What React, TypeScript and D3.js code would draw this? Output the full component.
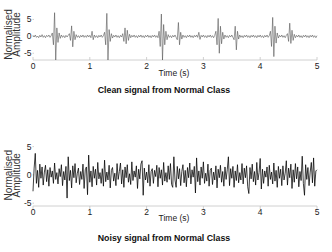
import * as d3 from "d3";

// sample spacing of both recordings (s)
const DT = 0.02;
const X_TICKS = [0, 1, 2, 3, 4, 5];
const Y_TICKS = [-5, 0, 5];
const TITLES = ["Clean signal from Normal Class", "Noisy signal from Normal Class"];

// clean heart sound
const CLEAN = [
  0.3, -0.2, 0.4, -0.3, 0.1, -0.4, 0.3, -0.2, 0.5, -0.3,
  0.2, -0.4, 0.3, -0.1, 0.4, -0.3, 0.2, 1.0, -2.5, 7.0,
  -7.0, 2.5, -1.8, 1.0, -0.6, 0.4, -0.3, 0.2, -0.4, 0.3,
  -0.2, 0.3, 0.8, -1.2, 3.1, -3.1, 1.5, -1.0, 0.5, -0.3,
  0.2, -0.4, 0.3, -0.2, 0.4, -0.3, 0.2, -0.3, 0.4, -0.2,
  0.3, -0.4, 1.5, -1.0, 0.4, -0.3, 0.2, -0.4, 0.3, -0.2,
  0.4, -0.3, 0.2, 1.2, -2.5, 6.8, -7.0, 2.0, -1.5, 0.8,
  -0.5, 0.3, -0.2, 0.4, -0.3, 0.2, -0.4, 0.3, -0.2, 0.8,
  -1.5, 2.5, -2.2, 1.8, -1.2, 0.6, -0.4, 0.3, -0.2, 0.4,
  -0.3, 0.2, -0.4, 0.3, -0.2, 0.4, -0.3, 0.2, -0.4, 0.3,
  -0.2, 0.4, -0.3, 0.2, -0.4, 0.3, -0.2, 0.4, -0.3, 0.2,
  -0.4, 1.5, -3.0, 6.6, -7.0, 3.5, -2.5, 1.5, -1.0, 0.5,
  -0.3, 0.2, -0.4, 0.3, -0.2, 0.4, -0.3, -1.0, 4.1, -2.5,
  1.2, -0.8, 0.4, -0.3, 0.2, -0.4, 0.3, -0.2, 0.4, -0.3,
  0.2, -0.4, 0.3, -0.2, 0.4, -0.3, 1.2, -0.9, 0.3, -0.2,
  0.4, -0.3, 0.2, -0.4, 0.3, -0.2, 0.4, -0.3, 0.2, -0.4,
  0.3, 1.5, -2.5, 5.3, -5.0, 3.0, -2.2, 1.2, -0.8, 0.4,
  -0.3, 0.2, -0.4, 0.3, -0.2, 0.4, -0.3, -1.0, 3.0, -4.0,
  1.5, -0.8, 0.4, -0.3, 0.2, -0.4, 0.3, -0.2, 0.4, -0.3,
  0.2, -0.4, 0.3, -0.2, 0.4, -0.3, 0.2, -0.4, 0.3, -0.2,
  0.4, -0.3, 0.2, -0.4, 0.3, -0.2, 0.4, -0.3, 0.2, 1.5,
  -3.0, 5.6, -6.0, 3.0, -2.0, 1.0, -0.5, 0.3, -0.2, 0.4,
  -0.3, 0.2, -0.4, 0.3, 0.8, -1.5, 3.9, -2.1, 1.8, -1.2,
  0.6, -0.4, 0.3, -0.2, 0.4, -0.3, 0.2, -0.4, 0.3, -0.2,
  0.4, -0.3, 0.2, -0.4, 0.3, -0.2, 0.4, -0.3, 0.2, -0.4,
  0.2,
];

// noisy version
const NOISY = [
  -2.9, 1.2, 3.8, -1.5, 0.8, -2.2, 1.9, -0.6, 1.4, -1.8,
  0.5, 1.7, -1.2, 0.9, -2.0, 1.3, -0.4, 0.7, -1.5, 2.1,
  -0.8, 0.4, -1.6, 1.1, -0.3, 1.8, -1.9, 0.6, -0.9, 1.5,
  -4.1, 3.2, -1.0, 0.8, -2.3, 1.6, -0.5, 2.0, -1.4, 0.3,
  1.2, -1.7, 0.6, -0.8, 1.9, -2.4, 0.9, 1.4, -3.5, 3.5,
  -1.3, 0.7, -2.1, 1.5, -0.6, 1.0, -1.8, 2.2, -0.7, 0.4,
  -1.5, 1.1, -2.0, 2.6, -1.2, 0.5, -0.9, 1.7, -2.3, 0.8,
  1.3, -1.1, 0.3, -1.9, 2.0, -0.8, 0.6, 2.1, -1.6, 0.9,
  -2.2, 1.4, -0.5, 1.8, -1.3, 0.2, -1.7, 2.3, -1.0, 0.7,
  -0.4, 1.6, -2.4, 1.0, -0.7, 1.9, 2.5, -3.6, 1.2, -0.9,
  0.5, -1.4, 1.8, -2.0, 0.6, 1.1, -1.5, 0.8, -0.3, 1.7,
  -2.1, 1.3, -0.6, 0.9, -1.8, 2.2, -1.1, 0.4, -1.3, 1.6,
  -0.8, 2.0, -1.7, -2.2, 3.2, -0.9, -2.2, 1.5, -0.7, 1.1,
  -1.9, 0.6, 1.8, -1.4, 0.8, -2.1, 1.3, -0.5, 2.1, -1.6,
  0.9, -0.4, 1.5, -3.2, 3.0, -1.2, 0.7, -1.8, 1.4, -0.6,
  2.3, -1.5, 0.3, -1.1, 1.9, -2.0, 0.8, 1.2, -1.7, 0.5,
  -0.9, 1.6, -2.3, 1.0, -0.5, 1.7, -1.3, 0.6, -2.0, 1.4,
  -0.8, 0.9, 3.2, -1.9, 1.1, -0.6, 1.5, -2.2, 0.7, -1.0,
  1.8, -1.4, 0.4, -0.9, 2.0, -1.6, 1.2, -0.5, 1.6, -2.1,
  -3.3, 1.3, -0.7, 1.9, -1.2, 0.6, -1.8, 2.2, -0.9, 0.4,
  2.9, -2.5, 1.0, -1.5, 0.7, -0.4, 1.4, -2.0, 1.7, -0.8,
  0.5, -1.6, 2.1, -1.1, 0.8, -2.2, 1.5, -0.6, 1.0, -1.9,
  1.6, -0.9, 0.3, 2.5, -1.8, 1.2, -0.5, 1.9, -2.4, 0.9,
  -1.3, 2.0, -0.7, 1.4, -2.1, 0.6, -1.0, 3.3, -1.5, -3.6,
  1.8, -0.8, 1.3, -1.9, 0.5, 2.2, -1.4, 3.0, -2.0, 0.7,
  0.9,
];

const FONT = "Liberation Sans, Arial, Helvetica, sans-serif";
const AXIS = "#c4c4c4";

const x = d3.scaleLinear().domain([0, 5]).range([33, 317]);

interface PanelProps {
  values: number[];
  yDomain: [number, number];
  yRange: [number, number];
  title: string;
  stroke: string;
  strokeWidth: number;
  tickDir: number;
  labelY: number;
  titleY: number;
}

function Panel({ values, yDomain, yRange, title, stroke, strokeWidth, tickDir, labelY, titleY }: PanelProps) {
  const y = d3.scaleLinear().domain(yDomain).range(yRange);
  const base = yRange[0];
  const line = d3.line<number>()
    .x((_, i) => x(i * DT))
    .y((v) => y(v));
  const midY = (yRange[0] + yRange[1]) / 2 - 1;

  return (
    <g fontFamily={FONT}>
      {/* x axis */}
      <line x1={x(0)} x2={x(5)} y1={base} y2={base} stroke={AXIS} strokeWidth={0.8} />
      {X_TICKS.map((t) => (
        <g key={t}>
          <line x1={x(t)} x2={x(t)} y1={base} y2={base + 3 * tickDir} stroke={AXIS} strokeWidth={0.8} />
          <text x={x(t)} y={base + 8.5} textAnchor="middle" fontSize={8.5} fill="#222">{t}</text>
        </g>
      ))}
      <text x={174} y={labelY} textAnchor="middle" fontSize={8.5} fill="#222">Time (s)</text>

      {/* y axis */}
      {Y_TICKS.map((t) => (
        <g key={t}>
          <line x1={32.5} x2={34} y1={y(t)} y2={y(t)} stroke={AXIS} strokeWidth={0.8} />
          <text x={31.5} y={y(t)} dy="0.35em" textAnchor="end" fontSize={8.5} fill="#222">{t}</text>
        </g>
      ))}
      <text transform={`translate(11.5,${midY}) rotate(-90)`} textAnchor="middle" fontSize={10} fill="#333">Normalised</text>
      <text transform={`translate(19.5,${midY}) rotate(-90)`} textAnchor="middle" fontSize={10} fill="#333">Amplitude</text>

      <path d={line(values) ?? ""} fill="none" stroke={stroke} strokeWidth={strokeWidth} strokeLinejoin="round" />

      <text x={164} y={titleY} textAnchor="middle" fontSize={8.8} fontWeight="bold" fill="#111">{title}</text>
    </g>
  );
}

export default function App() {
  return (
    <div style={{ position: "fixed", left: 0, top: 0 }}>
      <svg width={332} height={252} style={{ display: "block", background: "#fff" }}>
        <Panel
          values={CLEAN}
          yDomain={[-7, 7.5]}
          yRange={[60, 11]}
          title={TITLES[0]}
          stroke="#555"
          strokeWidth={0.6}
          tickDir={-1}
          labelY={75.5}
          titleY={93}
        />
        <Panel
          values={NOISY}
          yDomain={[-5.5, 5]}
          yRange={[206, 146.6]}
          title={TITLES[1]}
          stroke="#000"
          strokeWidth={0.75}
          tickDir={1}
          labelY={221}
          titleY={241}
        />
      </svg>
    </div>
  );
}
